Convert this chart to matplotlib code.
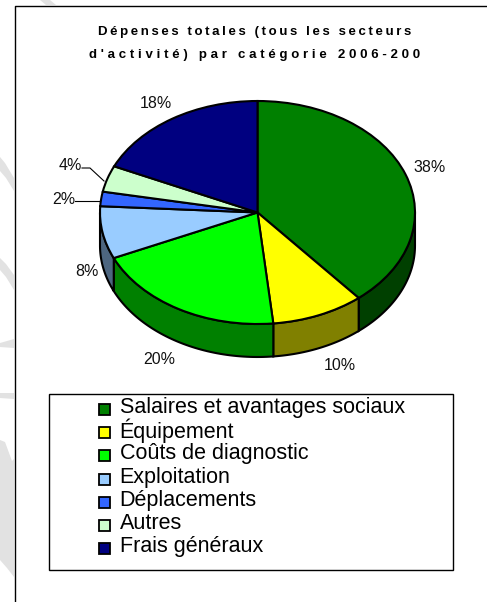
import numpy as np
import matplotlib
matplotlib.use('Agg')
import matplotlib.pyplot as plt
from matplotlib.patches import Rectangle, Polygon

W, H = 487, 602

categories = ['Salaires et avantages sociaux', 'Équipement', 'Coûts de diagnostic',
              'Exploitation', 'Déplacements', 'Autres', 'Frais généraux']
values = [38.9, 9.5, 19.9, 7.6, 2.1, 3.8, 18.2]
colors = ['#008000', '#ffff00', '#00ff00', '#99ccff', '#3366ff', '#ccffcc', '#000080']
side_colors = ['#004000', '#808000', '#008000', '#4d6680', '#1a3380', '#668066', '#000040']
labels = ['38%', '10%', '20%', '8%', '2%', '4%', '18%']
title_lines = ['Dépenses totales (tous les secteurs', "d'activité) par catégorie 2006-200"]

plt.rcParams['font.family'] = ['Liberation Sans', 'DejaVu Sans']

fig = plt.figure(figsize=(W / 100, H / 100), dpi=100, facecolor='white')

# overlay in pixel coordinates, y going down
bg = fig.add_axes([0, 0, 1, 1])
bg.set_xlim(0, W)
bg.set_ylim(H, 0)
bg.axis('off')

# faint watermark outside the frame
for pts in ([(40, 0), (50, 0), (56, 5), (46, 5)],
            [(0, 157), (5, 163), (14, 178), (14, 191), (6, 178), (0, 171)],
            [(0, 258), (6, 264), (14, 275), (14, 290), (6, 277), (0, 270)],
            [(0, 343), (14, 339), (14, 348), (0, 347)],
            [(0, 393), (14, 393), (14, 399), (0, 398)],
            [(0, 440), (5, 442), (12, 461), (14, 459), (14, 577), (7, 568), (0, 560)]):
    bg.add_patch(Polygon(pts, closed=True, fc='#e2e2e2', ec='none', zorder=0))

# chart frame runs off the right and bottom edges
bg.plot([14.5, 14.5, W], [H, 5.5, 5.5], color='black', lw=1, zorder=1)

# pie geometry
cx, cy, rx, ry, depth = 257.5, 212.5, 157.5, 111.5, 33

# side wall of the pie, visible only on the front half
ends = np.cumsum(values) / np.sum(values) * 360
starts = np.concatenate([[0], ends[:-1]])
for a0, a1, sc in zip(starts, ends, side_colors):
    lo, hi = max(a0, 90), min(a1, 270)
    if lo >= hi:
        continue
    t = np.radians(np.linspace(lo, hi, 60))
    x = cx + rx * np.sin(t)
    y = cy - ry * np.cos(t)
    pts = np.column_stack([np.r_[x, x[::-1]], np.r_[y, y[::-1] + depth]])
    bg.add_patch(Polygon(pts, closed=True, fc=sc, ec='black', lw=1.5, zorder=2))

# top of the pie, stretched into an ellipse
pie_ax = fig.add_axes([(cx - rx) / W, 1 - (cy + ry) / H, 2 * rx / W, 2 * ry / H])
pie_ax.pie(values, colors=colors, startangle=90, counterclock=False, radius=1,
           wedgeprops={'edgecolor': 'black', 'linewidth': 1.5})
pie_ax.set_aspect('auto')
pie_ax.set_xlim(-1, 1)
pie_ax.set_ylim(-1, 1)
pie_ax.patch.set_alpha(0)

top = fig.add_axes([0, 0, 1, 1])
top.set_xlim(0, W)
top.set_ylim(H, 0)
top.axis('off')
top.patch.set_alpha(0)

# title, bold with wide tracking (matplotlib has no letter spacing, so thin/hair spaces)
for txt, y, gap in zip(title_lines, [32, 55], ['\u2009', '\u2009\u200a']):
    top.text(255, y, gap.join(txt), ha='center', va='center', fontsize=9.5, fontweight='bold',
             color='black')

# percentage labels
label_pos = [(429.5, 167), (340, 365), (159, 359), (87, 271), (64, 200), (70, 166), (156, 103)]
for lab, (x, y) in zip(labels, label_pos):
    top.text(x, y, lab, ha='center', va='center', fontsize=11.5, color='#111111')

# leader lines for the two small slices
top.plot([82, 90, 104], [168, 168, 181], color='black', lw=0.8)
top.plot([75, 100], [201, 201], color='black', lw=0.8)

# legend box
top.add_patch(Rectangle((48.5, 393.5), 404, 176, fc='white', ec='black', lw=1))
rows = np.linspace(409, 548, len(categories))
for name, col, y in zip(categories, colors, rows):
    top.add_patch(Rectangle((98.5, y - 5), 11, 11, fc=col, ec='black', lw=1.3))
    top.text(119.5, y - 1.5, name, ha='left', va='center', fontsize=15.5, color='black')

fig.savefig('out.png', dpi=100)
